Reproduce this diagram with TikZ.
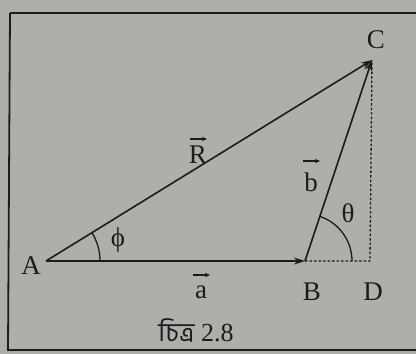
\documentclass[tikz,border=0pt]{standalone}
\usepackage{fontspec}
\setmainfont{Liberation Serif}
\newfontfamily\bengfont[Script=Bengali]{Hind Siliguri}
\usetikzlibrary{arrows.meta}
\definecolor{paper}{RGB}{172,175,170}
\definecolor{ink}{RGB}{28,28,28}
\tikzset{
  vec/.style={ink, line width=1.6pt, -{Stealth[length=11pt,width=7pt]}},
  guide/.style={ink, line width=1.3pt, dash pattern=on 2.5pt off 2pt},
  ang/.style={ink, line width=1.3pt},
  lbl/.style={text=ink, font=\fontsize{27}{30}\selectfont, inner sep=0pt},
  small/.style={ink, line width=1.6pt, -{Stealth[length=5pt,width=4.5pt]}},
  frame/.style={ink, line width=1.8pt}
}
\begin{document}
\begin{tikzpicture}[x=1pt,y=-1pt]
\fill[paper] (0,0) rectangle (416,354);
\useasboundingbox (0,0) rectangle (416,354);
\draw[frame] (10,13) -- (416,13);
\draw[frame] (10,13) -- (8,350) -- (416,350);
\coordinate (A) at (46,261);
\coordinate (B) at (305,261);
\coordinate (C) at (372,60);
\coordinate (D) at (370,261);
\draw[guide] (B) -- (D) -- (C);
\draw[vec] (A) -- (B);
\draw[vec] (A) -- (C);
\draw[vec] (B) -- (C);
\draw[ang] ([shift={(54,0)}]A) arc[start angle=0, end angle=-31.7, radius=54];
\draw[ang] ([shift={(47,0)}]B) arc[start angle=0, end angle=-71.5, radius=47];
\node[lbl] (lA) at (31,266) {A};
\node[lbl] (lB) at (312,292) {B};
\node[lbl] (lD) at (373,292) {D};
\node[lbl] (lC) at (376,40) {C};
\node[lbl] (lR) at (198,155) {R};
\draw[small] ([shift={(-8,-16)}]lR.center) -- ([shift={(9,-16)}]lR.center);
\node[lbl] (lb) at (311,182) {b};
\draw[small] ([shift={(-8,-21)}]lb.center) -- ([shift={(9,-21)}]lb.center);
\node[lbl] (la) at (201,292) {a};
\draw[small] ([shift={(-8,-17)}]la.center) -- ([shift={(9,-17)}]la.center);
\node[lbl] (lphi) at (118,240) {ϕ};
\node[lbl] (lth) at (348,213) {θ};
\node[lbl, font=\fontsize{26}{30}\selectfont] (cap) at (196,330) {{\bengfont চিত্র} 2.8};
\end{tikzpicture}
\end{document}
